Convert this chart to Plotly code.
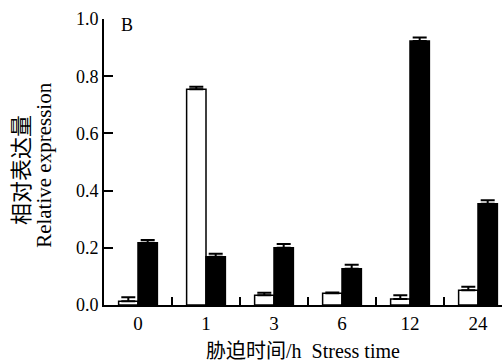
import plotly.graph_objects as go

categories = ["0", "1", "3", "6", "12", "24"]
white_vals = [0.013, 0.754, 0.034, 0.041, 0.021, 0.052]
white_err = [0.014, 0.009, 0.009, 0.003, 0.013, 0.012]
black_vals = [0.218, 0.169, 0.200, 0.127, 0.923, 0.354]
black_err = [0.009, 0.010, 0.013, 0.014, 0.012, 0.012]
y_ticks = [0.0, 0.2, 0.4, 0.6, 0.8, 1.0]
y_ticklabels = ["0.0", "0.2", "0.4", "0.6", "0.8", "1.0"]

xpos = list(range(len(categories)))
serif = "Liberation Serif"
mixed = "Liberation Serif, Noto Sans CJK SC"

fig = go.Figure()
fig.add_trace(go.Bar(
    x=xpos, y=white_vals,
    marker=dict(color="white", line=dict(color="black", width=1.5)),
    error_y=dict(type="data", symmetric=False, array=white_err,
                 arrayminus=[0] * len(white_err), color="black",
                 thickness=2, width=7),
    showlegend=False,
))
fig.add_trace(go.Bar(
    x=xpos, y=black_vals,
    marker=dict(color="black", line=dict(color="black", width=1.5)),
    error_y=dict(type="data", symmetric=False, array=black_err,
                 arrayminus=[0] * len(black_err), color="black",
                 thickness=2, width=7),
    showlegend=False,
))

fig.update_layout(
    width=502, height=364,
    margin=dict(l=104, r=0, t=19, b=59),
    paper_bgcolor="white", plot_bgcolor="white",
    barmode="group", bargap=0.43, bargroupgap=0,
    font=dict(family=mixed, color="black", size=18),
    xaxis=dict(
        range=[-0.5, 5.353],
        tickvals=xpos, ticktext=categories,
        ticks="", showgrid=False, zeroline=False,
        showline=True, linecolor="black", linewidth=2,
        tickfont=dict(family=serif, size=19, color="black"),
        minor=dict(tickvals=[0.5, 1.5, 2.5, 3.5, 4.5], ticks="inside",
                   ticklen=8, tickwidth=2, tickcolor="black"),
    ),
    yaxis=dict(
        range=[0, 1.0],
        tickvals=y_ticks, ticktext=y_ticklabels,
        ticks="inside", ticklen=9, tickwidth=2, tickcolor="black",
        showgrid=False, zeroline=False,
        showline=True, linecolor="black", linewidth=2,
        tickfont=dict(family=serif, size=18, color="black"),
    ),
    annotations=[
        dict(text="B", xref="paper", yref="paper", x=0, y=1,
             xshift=23, yshift=-6, xanchor="center", yanchor="middle",
             showarrow=False, font=dict(family=serif, size=18, color="black")),
        dict(text="胁迫时间/h  Stress time", xref="paper", yref="paper",
             x=0.5, y=0, yshift=-33, xanchor="center", yanchor="top",
             showarrow=False, font=dict(family=mixed, size=20, color="black")),
        dict(text="相对表达量", xref="paper", yref="paper",
             x=0, y=0.472, xshift=-85, xanchor="center", yanchor="middle",
             textangle=-90, showarrow=False,
             font=dict(family="Noto Sans CJK SC", size=22, color="#000000")),
        dict(text="Relative expression", xref="paper", yref="paper",
             x=0, y=0.49, xshift=-60, xanchor="center", yanchor="middle",
             textangle=-90, showarrow=False,
             font=dict(family=serif, size=21, color="black")),
    ],
)

fig.write_html("out.html")
